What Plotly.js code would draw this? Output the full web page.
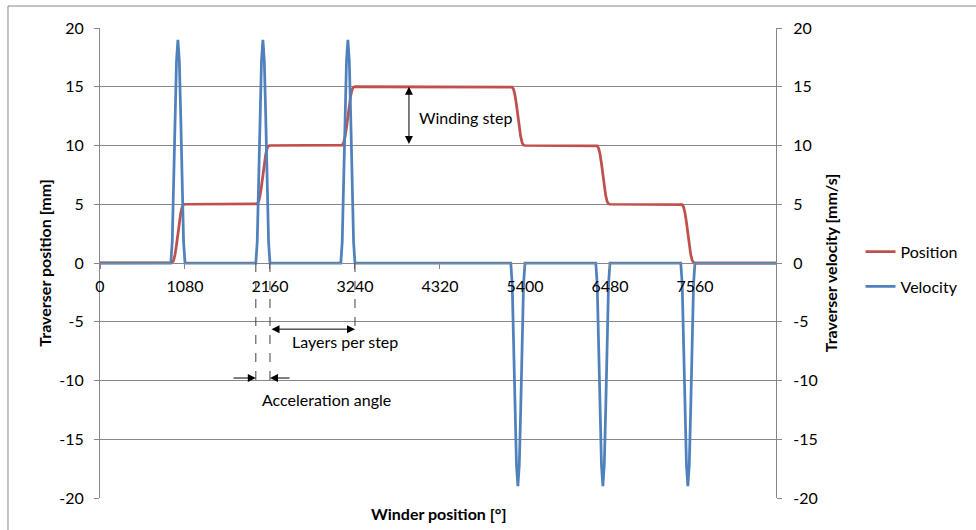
<!DOCTYPE html>
<html>
<head>
<meta charset="utf-8">
<script src="https://cdn.plot.ly/plotly-3.0.1.min.js"></script>
<style>html,body{margin:0;padding:0;background:#fff}#chart{width:976px;height:530px}</style>
</head>
<body>
<div id="chart"></div>
<script>
// Winder position [°]
const angle = [0,
  900, 918, 936, 954, 972, 990, 1008, 1026, 1044, 1062, 1080,
  1980, 1998, 2016, 2034, 2052, 2070, 2088, 2106, 2124, 2142, 2160,
  3060, 3078, 3096, 3114, 3132, 3150, 3168, 3186, 3204, 3222, 3240,
  5220, 5238, 5256, 5274, 5292, 5310, 5328, 5346, 5364, 5382, 5400,
  6300, 6318, 6336, 6354, 6372, 6390, 6408, 6426, 6444, 6462, 6480,
  7380, 7398, 7416, 7434, 7452, 7470, 7488, 7506, 7524, 7542, 7560,
  8590];
// Traverser position [mm]
const position = [0,
  0, 0.03, 0.24, 0.74, 1.53, 2.5, 3.47, 4.26, 4.76, 4.97, 5,
  5, 5.03, 5.24, 5.74, 6.53, 7.5, 8.47, 9.26, 9.76, 9.97, 10,
  10, 10.03, 10.24, 10.74, 11.53, 12.5, 13.47, 14.26, 14.76, 14.97, 15,
  15, 14.97, 14.76, 14.26, 13.47, 12.5, 11.53, 10.74, 10.24, 10.03, 10,
  10, 9.97, 9.76, 9.26, 8.47, 7.5, 6.53, 5.74, 5.24, 5.03, 5,
  5, 4.97, 4.76, 4.26, 3.47, 2.5, 1.53, 0.74, 0.24, 0.03, 0,
  0];
// Traverser velocity [mm/s]
const velocity = [0,
  0, 1.81, 6.56, 12.44, 17.19, 19, 17.19, 12.44, 6.56, 1.81, 0,
  0, 1.81, 6.56, 12.44, 17.19, 19, 17.19, 12.44, 6.56, 1.81, 0,
  0, 1.81, 6.56, 12.44, 17.19, 19, 17.19, 12.44, 6.56, 1.81, 0,
  0, -1.81, -6.56, -12.44, -17.19, -19, -17.19, -12.44, -6.56, -1.81, 0,
  0, -1.81, -6.56, -12.44, -17.19, -19, -17.19, -12.44, -6.56, -1.81, 0,
  0, -1.81, -6.56, -12.44, -17.19, -19, -17.19, -12.44, -6.56, -1.81, 0,
  0];
const xTicks = [0, 1080, 2160, 3240, 4320, 5400, 6480, 7560];
const yTicks = [-20, -15, -10, -5, 0, 5, 10, 15, 20];
const yTickText = ['-20', '-15', '-10', '-5', '0', '5', '10', '15', '20'];

const FONT = 'Lato, "Open Sans", "Noto Sans", sans-serif';
const GRID = '#878787';
const FS = 16;

const traces = [
  {x: angle, y: position, name: 'Position', type: 'scatter', mode: 'lines',
   line: {color: '#C0504D', width: 2.75}, yaxis: 'y', legendgroup: 'a'},
  {x: angle, y: velocity, name: 'Velocity', type: 'scatter', mode: 'lines',
   line: {color: '#4F81BD', width: 2.75}, yaxis: 'y2', legendgroup: 'b'}
];

const arrowBase = {showarrow: true, text: '', axref: 'x', ayref: 'y', xref: 'x', yref: 'y',
  arrowhead: 2, arrowsize: 1.6, arrowwidth: 1, arrowcolor: '#000', standoff: 0, startstandoff: 0};

const layout = {
  width: 976, height: 530,
  margin: {l: 100, r: 200, t: 28, b: 32},
  paper_bgcolor: '#fff', plot_bgcolor: '#fff',
  font: {family: FONT, size: FS, color: '#000'},
  showlegend: true,
  legend: {x: 1.125, xanchor: 'left', y: 0.487, yanchor: 'middle', font: {size: FS},
           traceorder: 'grouped', tracegroupgap: 11, bgcolor: 'rgba(0,0,0,0)', borderwidth: 0},
  xaxis: {range: [0, 8590], tickvals: xTicks, ticktext: xTicks.map(String),
          anchor: 'free', position: 0.5, showgrid: false, zeroline: false,
          showline: true, linecolor: GRID, linewidth: 1,
          ticks: 'outside', ticklen: 5, tickcolor: GRID, tickwidth: 1,
          ticklabelstandoff: 4, tickfont: {size: FS}},
  yaxis: {range: [-20, 20], tickvals: yTicks, ticktext: yTickText, showgrid: true, gridcolor: GRID, gridwidth: 1,
          zeroline: false, showline: true, linecolor: GRID, ticks: 'outside', ticklen: 5,
          tickcolor: GRID, ticklabelstandoff: 7, tickfont: {size: FS},
          title: {text: 'Traverser position [mm]', font: {size: FS, weight: 'bold'}, standoff: 3}},
  yaxis2: {range: [-20, 20], tickvals: yTicks, ticktext: yTickText, overlaying: 'y', side: 'right', showgrid: false,
          zeroline: false, showline: true, linecolor: GRID, ticks: 'outside', ticklen: 5,
          tickcolor: GRID, ticklabelstandoff: 8, tickfont: {size: FS},
          title: {text: 'Traverser velocity [mm/s]', font: {size: FS, weight: 'bold'}, standoff: 9}},
  shapes: [
    {type: 'rect', xref: 'paper', yref: 'paper', x0: -0.1361, x1: 1.31, y0: -0.08, y1: 1.0468,
     line: {color: GRID, width: 1}, fillcolor: 'rgba(0,0,0,0)', layer: 'below'},
    {type: 'line', xref: 'x', yref: 'y', x0: 1980, x1: 1980, y0: 0, y1: -10.55,
     line: {color: '#404040', width: 1, dash: 'dash'}},
    {type: 'line', xref: 'x', yref: 'y', x0: 2160, x1: 2160, y0: 0, y1: -10.55,
     line: {color: '#404040', width: 1, dash: 'dash'}},
    {type: 'line', xref: 'x', yref: 'y', x0: 3240, x1: 3240, y0: 0, y1: -5.86,
     line: {color: '#404040', width: 1, dash: 'dash'}}
  ],
  annotations: [
    Object.assign({}, arrowBase, {x: 3926, y: 15, ax: 3926, ay: 10, arrowside: 'end+start'}),
    Object.assign({}, arrowBase, {x: 3240, y: -5.63, ax: 2160, ay: -5.63, arrowside: 'end+start'}),
    Object.assign({}, arrowBase, {x: 1980, y: -9.79, ax: 1677, ay: -9.79}),
    Object.assign({}, arrowBase, {x: 2160, y: -9.79, ax: 2427, ay: -9.79}),
    {text: 'Winding step', x: 4028, y: 12.4, xref: 'x', yref: 'y', xanchor: 'left', yanchor: 'middle',
     showarrow: false, font: {size: FS}},
    {text: 'Layers per step', x: 3113, y: -6.7, xref: 'x', yref: 'y', xanchor: 'center', yanchor: 'middle',
     showarrow: false, font: {size: FS}},
    {text: 'Acceleration angle', x: 2880, y: -11.64, xref: 'x', yref: 'y', xanchor: 'center', yanchor: 'middle',
     showarrow: false, font: {size: FS}},
    {text: 'Winder position [°]', x: 0.5, y: -0.032, xref: 'paper', yref: 'paper', xanchor: 'center',
     yanchor: 'middle', showarrow: false, font: {size: FS, weight: 'bold'}}
  ]
};

Plotly.newPlot('chart', traces, layout, {displayModeBar: false, staticPlot: true});
</script>
</body>
</html>
